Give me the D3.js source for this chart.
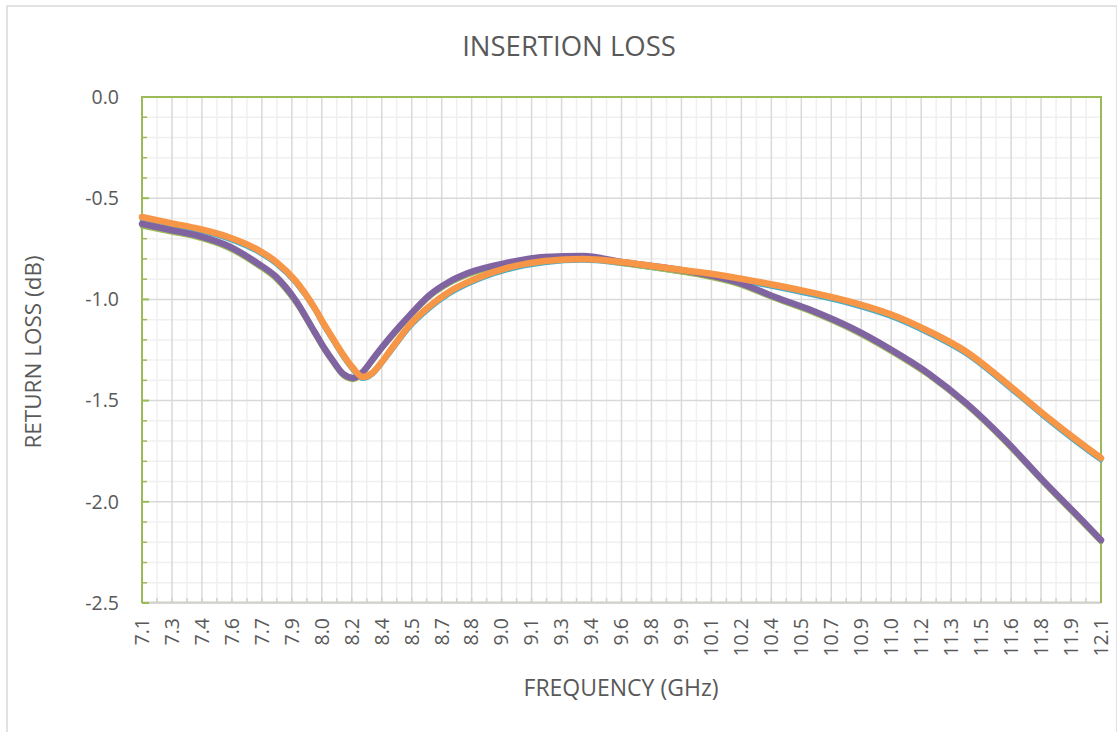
<!DOCTYPE html>
<html>
<head>
<meta charset="utf-8">
<script src="https://cdn.jsdelivr.net/npm/d3@7"></script>
<style>
  html, body { margin: 0; padding: 0; background: #fff; }
  svg { display: block; }
  text { font-family: "Open Sans", "Liberation Sans", sans-serif; fill: #595959; }
</style>
</head>
<body>
<svg id="chart" width="1117" height="732"></svg>
<script>
// ---------- data ----------
const chartTitle = "INSERTION LOSS";
const xTitle = "FREQUENCY (GHz)";
const yTitle = "RETURN LOSS (dB)";

const xTickLabels = ["7.1","7.3","7.4","7.6","7.7","7.9","8.0","8.2","8.4","8.5","8.7","8.8","9.0",
  "9.1","9.3","9.4","9.6","9.8","9.9","10.1","10.2","10.4","10.5","10.7","10.9","11.0","11.2",
  "11.3","11.5","11.6","11.8","11.9","12.1"];
const yTicks = [0, -0.5, -1.0, -1.5, -2.0, -2.5];

const freq = [7.10, 7.25, 7.40, 7.55, 7.70, 7.80, 7.90, 8.00, 8.05, 8.10, 8.15, 8.20, 8.25, 8.30,
  8.35, 8.40, 8.50, 8.60, 8.70, 8.80, 9.00, 9.20, 9.40, 9.60, 9.80, 10.00, 10.20, 10.40, 10.60,
  10.80, 11.00, 11.20, 11.40, 11.60, 11.80, 12.00, 12.10];

const seriesCyan = [-0.605,-0.632,-0.662,-0.702,-0.764,-0.826,-0.918,-1.052,-1.136,-1.212,-1.287,
  -1.350,-1.392,-1.372,-1.318,-1.256,-1.134,-1.045,-0.975,-0.925,-0.856,-0.820,-0.808,-0.824,-0.850,
  -0.876,-0.905,-0.940,-0.980,-1.025,-1.084,-1.168,-1.272,-1.420,-1.578,-1.726,-1.795];
const seriesGreen = [-0.640,-0.668,-0.698,-0.748,-0.832,-0.902,-1.016,-1.172,-1.252,-1.320,-1.380,
  -1.398,-1.368,-1.308,-1.246,-1.190,-1.083,-0.988,-0.924,-0.880,-0.830,-0.798,-0.795,-0.824,-0.850,
  -0.880,-0.924,-0.998,-1.068,-1.152,-1.256,-1.376,-1.526,-1.706,-1.908,-2.102,-2.200];
const seriesPurple = [-0.627,-0.657,-0.687,-0.736,-0.820,-0.889,-1.003,-1.161,-1.240,-1.309,-1.369,
  -1.388,-1.359,-1.299,-1.238,-1.180,-1.074,-0.978,-0.914,-0.870,-0.820,-0.790,-0.786,-0.815,-0.840,
  -0.870,-0.914,-0.988,-1.057,-1.141,-1.245,-1.365,-1.515,-1.695,-1.897,-2.090,-2.189];
const seriesOrange = [-0.593,-0.623,-0.652,-0.692,-0.753,-0.815,-0.907,-1.042,-1.124,-1.201,-1.275,
  -1.339,-1.383,-1.364,-1.309,-1.245,-1.122,-1.033,-0.963,-0.914,-0.845,-0.810,-0.800,-0.815,-0.840,
  -0.865,-0.894,-0.929,-0.968,-1.013,-1.072,-1.156,-1.260,-1.408,-1.566,-1.714,-1.784];

const seriesList = [
  {values: seriesCyan,   color: "#4bacc6", width: 4.5},
  {values: seriesGreen,  color: "#9bbb59", width: 4.5},
  {values: seriesPurple, color: "#8064a2", width: 6.5},
  {values: seriesOrange, color: "#f79646", width: 6.5}
];

// ---------- layout ----------
const W = 1117, H = 732;
const plot = {left: 142, right: 1101, top: 97, bottom: 603};
const svg = d3.select("#chart");

// outer chart border
svg.append("rect").attr("x", 7).attr("y", 6).attr("width", W - 7).attr("height", H)
  .attr("fill", "#fff").attr("stroke", "#d9d9d9").attr("stroke-width", 1.5);

const xMin = 7.1, xMax = 12.1;
const x = d3.scaleLinear().domain([xMin, xMax]).range([plot.left, plot.right]);
const y = d3.scaleLinear().domain([-2.5, 0]).range([plot.bottom, plot.top]);

const nT = xTickLabels.length;
const step = (xMax - xMin) / (nT - 1);
const majorX = d3.range(nT).map(i => xMin + i * step);
const minorX = d3.range(nT - 1).map(i => xMin + (i + 0.5) * step);
const minorY = d3.range(0, 26).map(i => -i / 10).filter(v => Math.abs(v * 2 - Math.round(v * 2)) > 1e-6);

const grid = svg.append("g");
// minor gridlines
grid.selectAll("line.mh").data(minorY).join("line")
  .attr("x1", plot.left).attr("x2", plot.right)
  .attr("y1", d => y(d)).attr("y2", d => y(d))
  .attr("stroke", "#f0f0f0").attr("stroke-width", 1.5);
grid.selectAll("line.mv").data(minorX).join("line")
  .attr("y1", plot.top).attr("y2", plot.bottom)
  .attr("x1", d => x(d)).attr("x2", d => x(d))
  .attr("stroke", "#f0f0f0").attr("stroke-width", 1.5);
// major gridlines
grid.selectAll("line.Mh").data(yTicks).join("line")
  .attr("x1", plot.left).attr("x2", plot.right)
  .attr("y1", d => y(d)).attr("y2", d => y(d))
  .attr("stroke", "#d9d9d9").attr("stroke-width", 1.5);
grid.selectAll("line.Mv").data(majorX).join("line")
  .attr("y1", plot.top).attr("y2", plot.bottom)
  .attr("x1", d => x(d)).attr("x2", d => x(d))
  .attr("stroke", "#d9d9d9").attr("stroke-width", 1.5);

// bottom axis (gray) with inner ticks
svg.append("line").attr("x1", plot.left).attr("x2", plot.right)
  .attr("y1", plot.bottom - 0.5).attr("y2", plot.bottom - 0.5)
  .attr("stroke", "#d0d0c8").attr("stroke-width", 2);
svg.append("g").selectAll("line").data(majorX.concat(minorX)).join("line")
  .attr("x1", d => x(d)).attr("x2", d => x(d))
  .attr("y1", plot.bottom).attr("y2", plot.bottom - 5)
  .attr("stroke", "#d0d0c8").attr("stroke-width", 1.5);

// green frame: top, left, right
const green = "#9bbb59";
svg.append("path")
  .attr("d", `M${plot.left},${plot.bottom} L${plot.left},${plot.top} L${plot.right},${plot.top} L${plot.right},${plot.bottom}`)
  .attr("fill", "none").attr("stroke", green).attr("stroke-width", 2);
// left axis inner ticks
svg.append("g").selectAll("line").data(minorY).join("line")
  .attr("x1", plot.left).attr("x2", plot.left + 5)
  .attr("y1", d => y(d)).attr("y2", d => y(d))
  .attr("stroke", green).attr("stroke-width", 1.5);
svg.append("g").selectAll("line").data(yTicks).join("line")
  .attr("x1", plot.left).attr("x2", plot.left + 7)
  .attr("y1", d => y(d)).attr("y2", d => y(d))
  .attr("stroke", green).attr("stroke-width", 2);

// series
const line = d3.line().x((d, i) => x(freq[i])).y(d => y(d)).curve(d3.curveMonotoneX);
svg.append("g").selectAll("path").data(seriesList).join("path")
  .attr("d", s => line(s.values))
  .attr("fill", "none")
  .attr("stroke", s => s.color)
  .attr("stroke-width", s => s.width)
  .attr("stroke-linejoin", "round").attr("stroke-linecap", "round");

// y tick labels
svg.append("g").selectAll("text").data(yTicks).join("text")
  .attr("x", 119).attr("y", d => y(d)).attr("dy", "0.35em")
  .attr("text-anchor", "end").style("font-size", "19.5px")
  .text(d => d.toFixed(1));

// x tick labels
svg.append("g").selectAll("text").data(majorX).join("text")
  .attr("transform", d => `translate(${x(d)},${plot.bottom + 15}) rotate(-90)`)
  .attr("dy", "0.35em").attr("text-anchor", "end").style("font-size", "19.5px")
  .text((d, i) => xTickLabels[i]);

// titles
svg.append("text").attr("x", 569).attr("y", 56).attr("text-anchor", "middle")
  .style("font-size", "27.5px").text(chartTitle);
svg.append("text").attr("x", 621).attr("y", 696).attr("text-anchor", "middle")
  .style("font-size", "23px").text(xTitle);
svg.append("text").attr("transform", `translate(41,352) rotate(-90)`)
  .attr("text-anchor", "middle").style("font-size", "22.5px").text(yTitle);
</script>
</body>
</html>
